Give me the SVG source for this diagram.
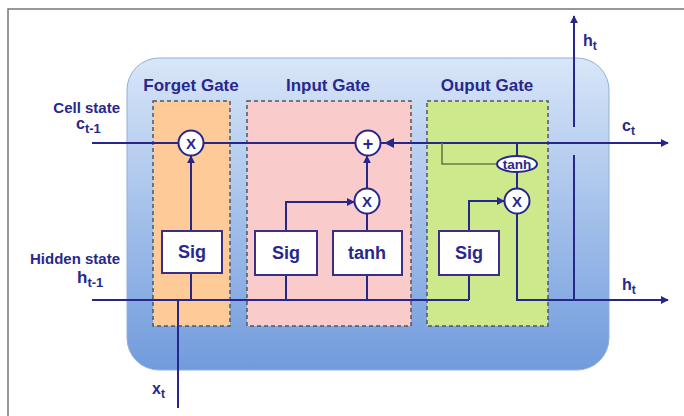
<svg xmlns="http://www.w3.org/2000/svg" width="684" height="416" viewBox="0 0 684 416">
<defs>
<linearGradient id="bg" x1="0" y1="0" x2="0" y2="1">
<stop offset="0" stop-color="#d8e6f8"/>
<stop offset="1" stop-color="#719bdd"/>
</linearGradient>
<marker id="ah" viewBox="0 0 10 10" refX="9" refY="5" markerWidth="8" markerHeight="8" markerUnits="userSpaceOnUse" orient="auto">
<path d="M0,0 L10,5 L0,10 z" fill="#26268c"/>
</marker>
<style>
.ln{fill:none;stroke:#26268c;stroke-width:2}
.ol{fill:none;stroke:#6b7b3a;stroke-width:1.6}
.gate{stroke:#555;stroke-width:1.5;stroke-dasharray:4 3}
.box{fill:#fff;stroke:#3a2e8a;stroke-width:2}
.op{fill:#fff;stroke:#26268c;stroke-width:2}
.t{font-family:"Liberation Sans",Arial,sans-serif;font-weight:bold;fill:#28288e}
.title{font-size:17px;text-anchor:middle}
.bt{font-size:18px;text-anchor:middle}
.ot{font-size:15px;text-anchor:middle}
.lab{font-size:15px}
</style>
</defs>
<path d="M8,416 V9 H684" fill="none" stroke="#777" stroke-width="1.5"/>
<rect x="127" y="58" width="482" height="312" rx="32" fill="url(#bg)" stroke="#8fb0dc" stroke-width="1"/>

<g id="forget-gate">
<rect class="gate" x="153" y="101" width="77" height="225" fill="#fdca98"/>
<text class="t title" x="191" y="91">Forget Gate</text>
</g>
<g id="input-gate">
<rect class="gate" x="247" y="101" width="164" height="225" fill="#f9cccb"/>
<text class="t title" x="328" y="91">Input Gate</text>
</g>
<g id="output-gate">
<rect class="gate" x="427" y="101" width="121" height="225" fill="#cde98c"/>
<text class="t title" x="487" y="91">Ouput Gate</text>
</g>

<g id="connectors">
<line class="ln" x1="92" y1="143" x2="668" y2="143" marker-end="url(#ah)"/>
<path d="M384,143 L394,138 L394,148 z" fill="#26268c"/>
<line class="ln" x1="92" y1="300" x2="469" y2="300"/>
<line class="ln" x1="178" y1="300" x2="178" y2="408"/>
<line class="ln" x1="191" y1="300" x2="191" y2="273"/>
<line class="ln" x1="191" y1="231" x2="191" y2="156" marker-end="url(#ah)"/>
<line class="ln" x1="286" y1="300" x2="286" y2="275"/>
<line class="ln" x1="367" y1="300" x2="367" y2="275"/>
<path class="ln" d="M286,230 V202 H354" marker-end="url(#ah)"/>
<line class="ln" x1="367" y1="230" x2="367" y2="214"/>
<line class="ln" x1="367" y1="189" x2="367" y2="156" marker-end="url(#ah)"/>
<line class="ln" x1="469" y1="300" x2="469" y2="275"/>
<path class="ln" d="M469,231 V201 H504" marker-end="url(#ah)"/>
<line class="ln" x1="517" y1="143" x2="517" y2="157"/>
<line class="ln" x1="517" y1="171" x2="517" y2="189"/>
<path class="ln" d="M517,213 V300 H668" marker-end="url(#ah)"/>
<path class="ol" d="M442,143 V164 H496"/>
<line class="ln" x1="574" y1="300" x2="574" y2="155"/>
<line class="ln" x1="574" y1="127" x2="574" y2="16" marker-end="url(#ah)"/>
</g>

<g id="forget-mult">
<circle class="op" cx="191" cy="143" r="12.5"/>
<text class="t ot" x="191" y="148.5">X</text>
</g>
<g id="forget-sig">
<rect class="box" x="162" y="231" width="60" height="42"/>
<text class="t bt" x="192" y="258">Sig</text>
</g>
<g id="input-sig">
<rect class="box" x="255" y="231" width="62" height="44"/>
<text class="t bt" x="286" y="259">Sig</text>
</g>
<g id="input-tanh">
<rect class="box" x="333" y="231" width="69" height="44"/>
<text class="t bt" x="367" y="259">tanh</text>
</g>
<g id="input-mult">
<circle class="op" cx="367" cy="201" r="12.5"/>
<text class="t ot" x="367" y="206.5">X</text>
</g>
<g id="cell-add">
<circle class="op" cx="368" cy="143" r="12.5"/>
<text class="t" x="368" y="149.5" font-size="18" text-anchor="middle">+</text>
</g>
<g id="output-sig">
<rect class="box" x="439" y="231" width="60" height="44"/>
<text class="t bt" x="469" y="259">Sig</text>
</g>
<g id="output-tanh">
<ellipse class="op" cx="517" cy="164" rx="20" ry="8"/>
<text class="t" x="517" y="169" font-size="13.5" text-anchor="middle">tanh</text>
</g>
<g id="output-mult">
<circle class="op" cx="517" cy="201" r="12.5"/>
<text class="t ot" x="517" y="206.5">X</text>
</g>

<g id="labels">
<text class="t lab" x="120" y="113" text-anchor="end">Cell state</text>
<text class="t" x="76" y="129" font-size="16">c<tspan font-size="13" dy="4">t-1</tspan></text>
<text class="t lab" x="120" y="264" text-anchor="end">Hidden state</text>
<text class="t" x="77" y="283" font-size="17">h<tspan font-size="13" dy="4">t-1</tspan></text>
<text class="t" x="152" y="394" font-size="16">x<tspan font-size="12" dy="4">t</tspan></text>
<text class="t" x="583" y="46" font-size="16">h<tspan font-size="12" dy="4">t</tspan></text>
<text class="t" x="622" y="131" font-size="16">c<tspan font-size="12" dy="4">t</tspan></text>
<text class="t" x="622" y="290" font-size="16">h<tspan font-size="12" dy="4">t</tspan></text>
</g>
</svg>
